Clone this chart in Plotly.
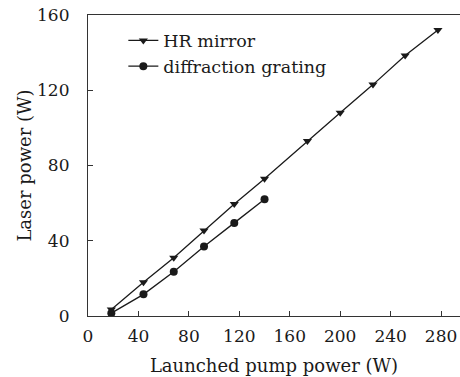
import plotly.graph_objects as go

pump_hr = [18.5, 44, 68, 92, 116, 140, 174, 200, 226, 251.5, 277.5]
power_hr = [3.5, 18, 31, 45.5, 59.5, 73, 93, 108, 123, 138.5, 152]
pump_dg = [18.5, 44, 68, 92, 116, 140]
power_dg = [1.5, 11.5, 23.5, 37, 49.5, 62]

x_ticks = [0, 40, 80, 120, 160, 200, 240, 280]
y_ticks = [0, 40, 80, 120, 160]

font_family = "'DejaVu Serif', 'Liberation Serif', serif"
c = "#1a1a1a"

fig = go.Figure()
fig.add_trace(go.Scatter(x=pump_hr, y=power_hr, mode="lines+markers", name="HR mirror",
                         line=dict(color=c, width=1.3),
                         marker=dict(symbol="triangle-down", size=8, color=c)))
fig.add_trace(go.Scatter(x=pump_dg, y=power_dg, mode="lines+markers", name="diffraction grating",
                         line=dict(color=c, width=1.3),
                         marker=dict(symbol="circle", size=8, color=c)))

axis_common = dict(ticks="inside", ticklen=5, tickwidth=1, tickcolor="#333",
                   showline=True, linecolor="#333", linewidth=1.2, showgrid=False,
                   zeroline=False, tickfont=dict(family=font_family, size=17, color=c))

fig.update_layout(
    width=460, height=377,
    margin=dict(l=88, r=0, t=15, b=61),
    paper_bgcolor="white", plot_bgcolor="white",
    showlegend=True,
    legend=dict(x=0.095, y=0.975, xanchor="left", yanchor="top",
                font=dict(family=font_family, size=17.5, color=c),
                bgcolor="rgba(0,0,0,0)", itemwidth=30, tracegroupgap=0),
    xaxis=dict(range=[0, 295], tickvals=x_ticks, mirror=True, ticklabelstandoff=4,
               title=dict(text="Launched pump power (W)", font=dict(family=font_family, size=18, color=c), standoff=14),
               **axis_common),
    yaxis=dict(range=[0, 160], tickvals=y_ticks, ticklabelstandoff=14,
               title=dict(text="Laser power (W)", font=dict(family=font_family, size=18, color=c), standoff=0),
               **axis_common),
)
fig.write_html("out.html")
